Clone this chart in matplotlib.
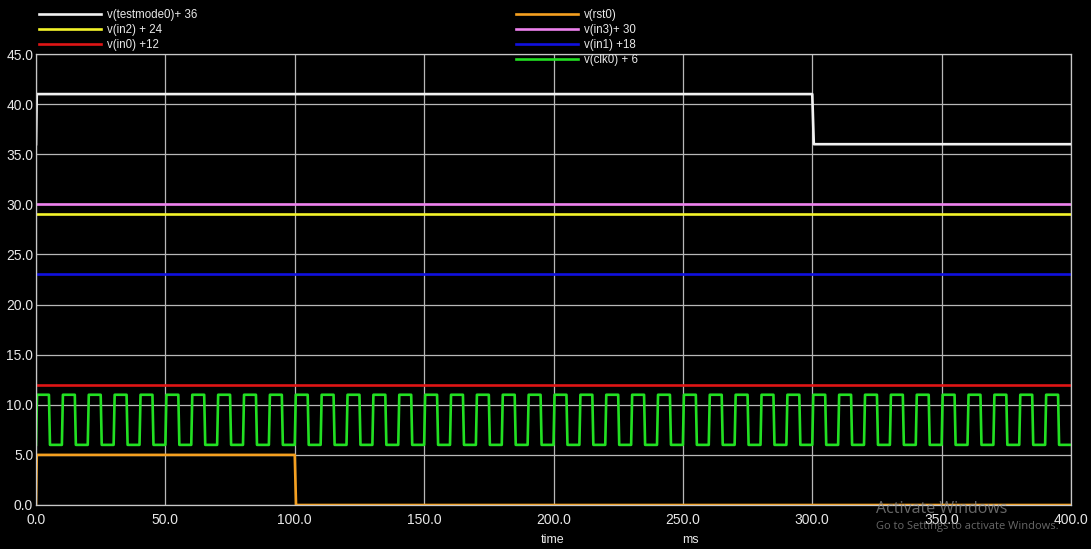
import matplotlib
matplotlib.use("Agg")
import matplotlib.pyplot as plt

# Waveforms (time in ms, voltage with display offsets already applied)
testmode_t = [0.0, 0.3, 300.0, 300.6, 400.0]
testmode_v = [36.0, 41.0, 41.0, 36.0, 36.0]

rst_t = [0.0, 0.3, 100.0, 100.5, 400.0]
rst_v = [0.0, 5.0, 5.0, 0.0, 0.0]

in2_v = 29.0
in3_v = 30.0
in1_v = 23.0
in0_v = 12.0

clk_low = 6.0
clk_high = 11.0
clk_rise_ms = [0, 10, 20, 30, 40, 50, 60, 70, 80, 90,
               100, 110, 120, 130, 140, 150, 160, 170, 180, 190,
               200, 210, 220, 230, 240, 250, 260, 270, 280, 290,
               300, 310, 320, 330, 340, 350, 360, 370, 380, 390]
clk_width_ms = 5.0

x_ticks = [0.0, 50.0, 100.0, 150.0, 200.0, 250.0, 300.0, 350.0, 400.0]
y_ticks = [0.0, 5.0, 10.0, 15.0, 20.0, 25.0, 30.0, 35.0, 40.0, 45.0]

# Build the clock step waveform from its edges
edge = 0.4
clk_t, clk_v = [], []
for r in clk_rise_ms:
    f = r + clk_width_ms
    clk_t += [r, r + edge, f, f + edge]
    clk_v += [clk_low, clk_high, clk_high, clk_low]
clk_t.append(400.0)
clk_v.append(clk_low)

plt.rcParams['font.family'] = ['Liberation Sans', 'DejaVu Sans']

fig = plt.figure(figsize=(10.91, 5.49), dpi=100, facecolor='black')
ax = fig.add_axes([36 / 1091, 1 - 505 / 549, 1035 / 1091, 451 / 549])
ax.set_facecolor('black')

lw = 1.9
h_tm, = ax.plot(testmode_t, testmode_v, color='#f2f2f2', lw=lw, label='v(testmode0)+ 36')
h_in2, = ax.plot([0, 400], [in2_v, in2_v], color='#f4f42a', lw=lw, label='v(in2) + 24')
h_in0, = ax.plot([0, 400], [in0_v, in0_v], color='#e01515', lw=lw, label='v(in0) +12')
h_rst, = ax.plot(rst_t, rst_v, color='#f5a020', lw=lw, label='v(rst0)')
h_in3, = ax.plot([0, 400], [in3_v, in3_v], color='#ee82ee', lw=lw, label='v(in3)+ 30')
h_in1, = ax.plot([0, 400], [in1_v, in1_v], color='#1010e0', lw=lw, label='v(in1) +18')
h_clk, = ax.plot(clk_t, clk_v, color='#22e022', lw=lw, label='v(clk0) + 6')

ax.set_xlim(0, 400)
ax.set_ylim(0, 45)
ax.set_xticks(x_ticks)
ax.set_yticks(y_ticks)
ax.set_xticklabels([f"{v:.1f}" for v in x_ticks])
ax.set_yticklabels([f"{v:.1f}" for v in y_ticks])
ax.grid(True, color='#b8b8b8', lw=0.9)
ax.set_axisbelow(True)
for s in ax.spines.values():
    s.set_color('#c8c8c8')
    s.set_linewidth(0.9)
ax.tick_params(colors='#e8e8e8', labelsize=10, length=0)
ax.tick_params(axis='x', pad=6)
ax.tick_params(axis='y', pad=2)

# Legends above the plot area
leg_kw = dict(frameon=False, fontsize=8.3, labelcolor='#e8e8e8', handlelength=5.4,
              handletextpad=0.55, labelspacing=0.28, borderaxespad=0.0)
leg1 = fig.legend(handles=[h_tm, h_in2, h_in0], loc='upper left',
                  bbox_to_anchor=(34 / 1091, 1 - 4 / 549), **leg_kw)
leg2 = fig.legend(handles=[h_rst, h_in3, h_in1, h_clk], loc='upper left',
                  bbox_to_anchor=(511 / 1091, 1 - 4 / 549), **leg_kw)

fig.text(553 / 1091, 1 - 540 / 549, 'time', color='#e8e8e8', fontsize=9, ha='center', va='center')
fig.text(690 / 1091, 1 - 540 / 549, 'ms', color='#e8e8e8', fontsize=9, ha='center', va='center')

# Desktop overlay text
fig.text(876 / 1091, 1 - 509 / 549, 'Activate Windows', color='#8a8a8a', alpha=0.75,
         fontsize=11.5, family=['Open Sans', 'DejaVu Sans'], ha='left', va='center')
fig.text(876 / 1091, 1 - 527 / 549, 'Go to Settings to activate Windows.', color='#8a8a8a',
         alpha=0.75, fontsize=8, family=['Open Sans', 'DejaVu Sans'], ha='left', va='center')

fig.savefig('out.png', dpi=100, facecolor='black')
